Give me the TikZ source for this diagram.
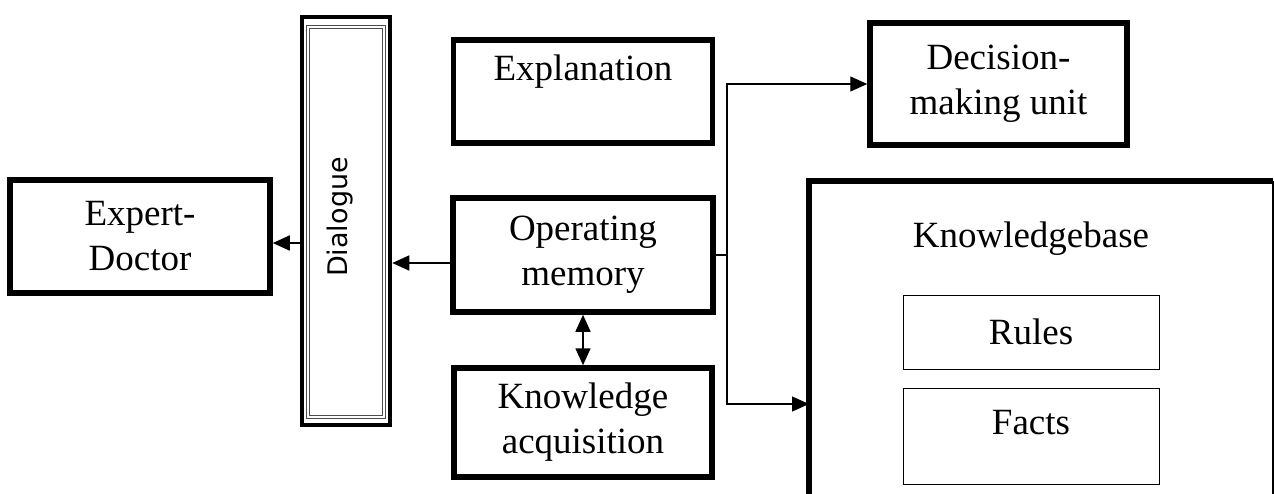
\documentclass[tikz,border=0pt]{standalone}
\usepackage{fontspec}
\setmainfont{Liberation Serif}
\newfontfamily\dlgfont{DejaVu Sans}
\usetikzlibrary{arrows.meta}
\begin{document}
\begin{tikzpicture}[x=1pt,y=-1pt]
		\tikzstyle{every node}+=[inner sep=0pt,align=center,font=\fontsize{37}{45}\selectfont]
		\tikzstyle{box}=[draw,line width=5.5pt]
		\tikzstyle{subbox}=[draw,line width=1pt]
		\tikzstyle{line}=[line width=1.2pt]
		\tikzstyle{arr}=[line width=1.6pt,-{Triangle[length=17pt,width=15pt]}]
		\tikzstyle{dblarr}=[line width=1.6pt,{Triangle[length=17pt,width=15pt]}-{Triangle[length=17pt,width=15pt]}]
		\useasboundingbox (0,0) rectangle (1274,493);
		\node [box,minimum width=260pt,minimum height=113pt] (expert) at (140,236.5) {Expert-\\Doctor};
		\node [draw,line width=4.5pt,minimum width=88pt,minimum height=408pt] (dlg) at (346,221) {};
		\draw [draw=gray!60!black,line width=1pt,double=white,double distance=1.2pt] ([shift={(-38,-194)}]dlg.center) rectangle ([shift={(38,196)}]dlg.center);
		\node [rotate=90,font=\dlgfont\fontsize{27}{32}\selectfont] (dlgtxt) at (340,217) {Dialogue};
		\node [box,minimum width=259pt,minimum height=103pt,text height=25pt,text depth=48pt] (expl) at (583,91.5) {Explanation};
		\node [box,minimum width=260pt,minimum height=114pt] (om) at (583,255) {Operating\\memory};
		\node [box,minimum width=258pt,minimum height=109pt] (ka) at (583,422.5) {Knowledge\\acquisition};
		\node [box,minimum width=257pt,minimum height=122pt] (dec) at (998.5,84) {Decision-\\making unit};
		\node [minimum width=464pt,minimum height=446pt,outer sep=0pt] (kb) at (1041,404) {};
		\draw [line width=5.5pt] (kb.south west) |- (kb.north east);
		\draw [line width=1.2pt] (kb.north east) -- (kb.south east);
		\node [anchor=base] (kbtitle) at (1031,247) {Knowledgebase};
		\node [subbox,minimum width=256pt,minimum height=74pt] (rules) at (1031,332) {Rules};
		\node [subbox,minimum width=256pt,minimum height=96pt,text height=25pt,text depth=29pt] (facts) at (1031,436) {Facts};
		\draw [arr] ([yshift=-8pt]om.west) -- ([yshift=-8pt]om.west -| dlg.east);
		\draw [arr] ([yshift=-6.5pt]expert.east -| dlg.west) -- ([yshift=-6.5pt]expert.east);
		\draw [dblarr] (om.south) -- (ka.north);
		\coordinate (split) at (727,255);
		\draw [line] (om.east) -- (split);
		\draw [arr,line width=1.2pt] (split) |- (dec.west);
		\draw [arr,line width=1.2pt] (split) |- (kb.west);
		\end{tikzpicture}
\end{document}
